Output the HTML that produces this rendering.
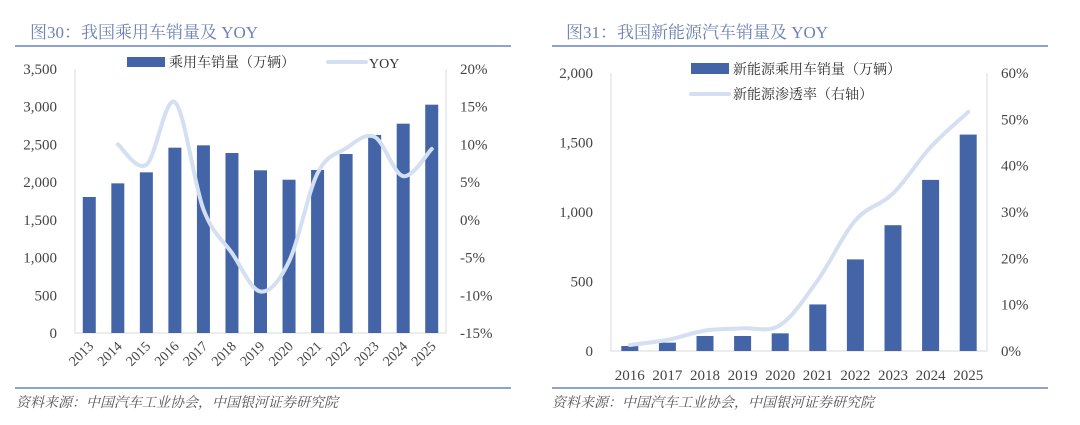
<!DOCTYPE html>
<html><head><meta charset="utf-8"><style>
body{margin:0;background:#fff;}
svg{display:block;font-family:"Liberation Serif","Noto Serif CJK SC",serif;}
</style></head><body>
<svg id="svg" width="1080" height="425">
<g id="left">
<text x="30" y="38" font-size="17" fill="#6e80b6">图30：我国乘用车销量及 YOY</text>
<line x1="15" y1="46" x2="511" y2="46" stroke="#8fa3d0" stroke-width="2"/>
<line x1="15" y1="388" x2="511" y2="388" stroke="#8fa3d0" stroke-width="2"/>
<text x="16" y="407" font-size="14" font-style="italic" fill="#555">资料来源：中国汽车工业协会，中国银河证券研究院</text>
<rect x="127" y="57" width="38" height="10" fill="#4464a8"/>
<text x="169" y="67" font-size="14" fill="#333">乘用车销量（万辆）</text>
<line x1="328" y1="62" x2="366" y2="62" stroke="#d4dff2" stroke-width="4" stroke-linecap="round"/>
<text x="369" y="68" font-size="14" fill="#333">YOY</text>
</g>
<g id="right">
<text x="566" y="38" font-size="17" fill="#6e80b6">图31：我国新能源汽车销量及 YOY</text>
<line x1="552" y1="46" x2="1048" y2="46" stroke="#8fa3d0" stroke-width="2"/>
<line x1="552" y1="388" x2="1048" y2="388" stroke="#8fa3d0" stroke-width="2"/>
<text x="552" y="407" font-size="14" font-style="italic" fill="#555">资料来源：中国汽车工业协会，中国银河证券研究院</text>
<rect x="691" y="63" width="38" height="11" fill="#4464a8"/>
<text x="733" y="74" font-size="14" fill="#333">新能源乘用车销量（万辆）</text>
<line x1="691" y1="94" x2="729" y2="94" stroke="#d4dff2" stroke-width="4" stroke-linecap="round"/>
<text x="733" y="99" font-size="14" fill="#333">新能源渗透率（右轴）</text>
</g>
</svg>
<script>
const leftYears=["2013","2014","2015","2016","2017","2018","2019","2020","2021","2022","2023","2024","2025"];
const leftSales=[1803,1984,2130,2457,2488,2386,2157,2032,2161,2373,2625,2775,3027];
const leftYoy=[null,10.0,7.3,15.6,1.4,-4.4,-9.5,-5.5,6.2,9.5,11.0,5.8,9.4];
const leftTicksL=[0,500,1000,1500,2000,2500,3000,3500];
const leftTicksR=[-15,-10,-5,0,5,10,15,20];
const rightYears=["2016","2017","2018","2019","2020","2021","2022","2023","2024","2025"];
const rightSales=[36,60,108,108,127,335,659,905,1231,1557];
const rightPen=[1.3,2.4,4.4,4.9,5.6,15.3,28.2,34.0,44.0,51.6];
const rightTicksL=[0,500,1000,1500,2000];
const rightTicksR=[0,10,20,30,40,50,60];
const NS="http://www.w3.org/2000/svg";
function mk(parent,tag,attrs,txt){const e=document.createElementNS(NS,tag);for(const k in attrs)e.setAttribute(k,attrs[k]);if(txt!=null)e.textContent=txt;parent.appendChild(e);return e;}
function smooth(pts){let d="M"+pts[0][0]+","+pts[0][1];for(let i=0;i<pts.length-1;i++){const p0=pts[i-1]||pts[i],p1=pts[i],p2=pts[i+1],p3=pts[i+2]||p2;const t=6;d+=" C"+(p1[0]+(p2[0]-p0[0])/t)+","+(p1[1]+(p2[1]-p0[1])/t)+" "+(p2[0]-(p3[0]-p1[0])/t)+","+(p2[1]-(p3[1]-p1[1])/t)+" "+p2[0]+","+p2[1];}return d;}
function fmt(v){return v.toLocaleString("en-US");}
function chart(g,o){
  const yL=v=>o.y0-(v-o.lmin)/(o.lmax-o.lmin)*(o.y0-o.y1);
  const yR=v=>o.y0-(v-o.rmin)/(o.rmax-o.rmin)*(o.y0-o.y1);
  const step=(o.xr-o.xl)/o.years.length;
  const xC=i=>o.xl+step*(i+0.5);
  let ax=mk(g,"path",{d:"M"+o.xl+","+o.y1+" V"+o.y0+" H"+o.xr+" V"+o.y1,fill:"none",stroke:"#d9d9d9","stroke-width":1});
  
  
  o.tl.forEach(v=>{const t=mk(g,"text",{x:o.xl-18,y:yL(v)+5,"font-size":15,fill:"#444","text-anchor":"end"},fmt(v));
    
    });
  o.tr.forEach(v=>{const t=mk(g,"text",{x:o.xr+14,y:yR(v)+5,"font-size":15,fill:"#444"},v+"%");
    
    });
  o.sales.forEach((v,i)=>{const r=mk(g,"rect",{x:xC(i)-o.bw/2,y:yL(v),width:o.bw,height:o.y0-yL(v),fill:"#4464a8"});
    
    });
  const pts=[];o.line.forEach((v,i)=>{if(v!=null)pts.push([xC(i),yR(v)]);});
  const p=mk(g,"path",{d:smooth(pts),fill:"none",stroke:"#d4dff2","stroke-width":4,"stroke-linecap":"round"});
  
  
  o.years.forEach((y,i)=>{let t;
    if(o.rot){t=mk(g,"text",{x:xC(i)+5,y:o.y0+14,"font-size":14,fill:"#444","text-anchor":"end",transform:"rotate(-45 "+(xC(i)+5)+" "+(o.y0+14)+")"},y);}
    else{t=mk(g,"text",{x:xC(i),y:o.y0+29,"font-size":15,fill:"#444","text-anchor":"middle"},y);}
    
    });
}
chart(document.getElementById("left"),{years:leftYears,sales:leftSales,line:leftYoy,tl:leftTicksL,tr:leftTicksR,lmin:0,lmax:3500,rmin:-15,rmax:20,xl:75,xr:446,y0:333,y1:69,bw:13,rot:true});
chart(document.getElementById("right"),{years:rightYears,sales:rightSales,line:rightPen,tl:rightTicksL,tr:rightTicksR,lmin:0,lmax:2000,rmin:0,rmax:60,xl:611,xr:987,y0:351,y1:73,bw:17,rot:false});
</script>
</body></html>
